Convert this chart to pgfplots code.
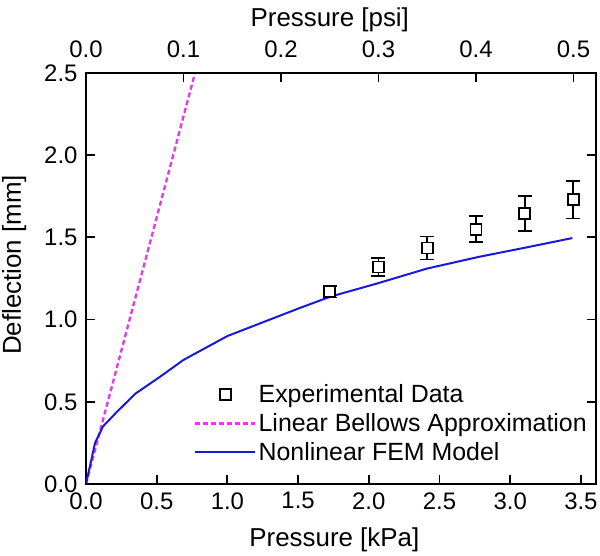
\documentclass[border=0pt]{standalone}
\usepackage{pgfplots}
\pgfplotsset{compat=1.18}
\usepackage{fontspec}
\setmainfont{Liberation Sans}
\definecolor{femblue}{RGB}{25,25,220}
\definecolor{bellows}{RGB}{228,60,228}

\pgfplotsset{
  common/.style={
    scale only axis, width=510bp, height=411bp,
    ymin=0, ymax=2.5,
    tick align=inside, major tick length=9bp,
    axis line style={line width=1.8bp},
    major tick style={line width=1.8bp, black},
    ticklabel style={font=\fontsize{24}{28}\selectfont},
    label style={font=\fontsize{26}{30}\selectfont},
    /pgf/number format/fixed,
    /pgf/number format/fixed zerofill,
    /pgf/number format/precision=1,
    /pgf/number format/assume math mode=true,
  }
}

\begin{document}
\begin{tikzpicture}
\begin{axis}[common,
  xmin=0, xmax=3.607,
  xtick={0,0.5,...,3.5}, ytick={0,0.5,...,2.5},
  xtick pos=bottom, ytick pos=both, yticklabel pos=left,
  xticklabel style={yshift=-5bp},
  yticklabel style={xshift=-5bp},
  xlabel={Pressure [kPa]}, ylabel={Deflection [mm]},
  xlabel style={at={(axis description cs:0.487,-0.152)}, anchor=base},
  ylabel style={at={(axis description cs:-0.141,0.533)}, anchor=center},
  legend style={at={(axis description cs:0.206,0.252)}, anchor=north west,
    draw=none, fill=none, font=\fontsize{25}{29}\selectfont, row sep=5.5bp},
  legend cell align=left,
  legend image code/.code={\draw[mark repeat=2,mark phase=2,#1] plot coordinates {(0bp,0bp) (30bp,0bp) (60bp,0bp)};},
]
\addplot[only marks, mark=square*, mark size=5.5bp,
  mark options={draw=black, fill=white, line width=1.8bp},
  error bars/.cd, y dir=both, y explicit,
  error bar style={line width=1.8bp, black},
  error mark options={rotate=90, mark size=7bp, line width=1.8bp, black}]
  coordinates {
  (1.724,1.17) +- (0,0.035)
  (2.068,1.32) +- (0,0.055)
  (2.413,1.435) +- (0,0.07)
  (2.758,1.55) +- (0,0.08)
  (3.103,1.645) +- (0,0.105)
  (3.447,1.73) +- (0,0.115)
  };
\addlegendentry{Experimental Data}
\addplot[bellows, line width=2.4bp, dash pattern=on 5bp off 3bp] coordinates {(0,0) (0.771,2.5)};
\addlegendentry{Linear Bellows Approximation}
\addplot[femblue, line width=2bp] coordinates {
  (0,0) (0.064,0.25) (0.12,0.35) (0.22,0.44) (0.35,0.55) (0.52,0.65)
  (0.69,0.755) (1.0,0.90) (1.51,1.07) (1.73,1.14) (2.06,1.22)
  (2.41,1.31) (2.77,1.38) (3.12,1.44) (3.44,1.496)
};
\addlegendentry{Nonlinear FEM Model}
\end{axis}
\begin{axis}[common,
  xmin=0, xmax=0.5231,
  xtick={0,0.1,...,0.5},
  xtick pos=top, xticklabel pos=top,
  hide y axis,
  xticklabel style={yshift=12bp},
  xlabel={Pressure [psi]},
  xlabel style={at={(axis description cs:0.478,1.112)}, anchor=base},
]
\addplot[draw=none] coordinates {(0,0)};
\end{axis}
\pgfresetboundingbox
\path ([xshift=-86bp,yshift=-72bp]current axis.south west) rectangle ([xshift=4bp,yshift=73bp]current axis.north east);
\end{tikzpicture}
\end{document}
